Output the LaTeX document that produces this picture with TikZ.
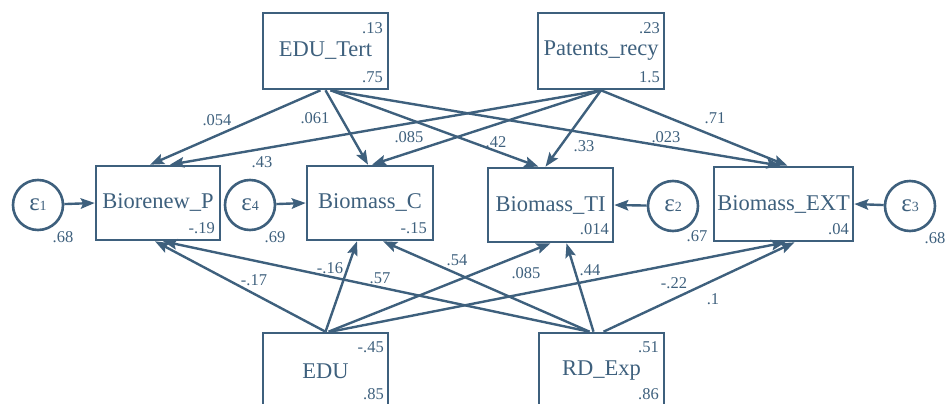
\documentclass[tikz,border=0pt]{standalone}
\usepackage{fontspec}
\setmainfont{Liberation Serif}
\usetikzlibrary{arrows.meta}
\definecolor{sem}{RGB}{62,96,125}
\newcommand{\epsl}[1]{{\fontsize{25}{25}\selectfont ε}{\fontsize{14}{14}\selectfont #1}}
\begin{document}
\begin{tikzpicture}[x=1pt,y=-1pt,
  every node/.style={text=sem},
  var/.style={draw=sem,line width=2.6pt,rectangle,inner sep=0pt,font=\fontsize{22.5}{22.5}\selectfont},
  errc/.style={draw=sem,line width=2.6pt,circle,minimum size=50pt,inner sep=0pt},
  num/.style={inner sep=0pt,font=\fontsize{16.5}{16.5}\selectfont},
  path/.style={draw=sem,line width=2.4pt,-{Stealth[length=14pt,width=10.5pt,inset=2.5pt]}}
]
\useasboundingbox (0,0) rectangle (945,404);
% boxes
\node[var,minimum width=125pt,minimum height=76pt] (edut) at (325.5,51) {EDU\_Tert};
\node[var,minimum width=126pt,minimum height=76pt] (pat) at (601,51) {Patents\_recy};
\node[var,minimum width=124pt,minimum height=74pt] (bp) at (158,203) {Biorenew\_P};
\node[var,minimum width=126pt,minimum height=74pt] (bc) at (370,203) {Biomass\_C};
\node[var,minimum width=125pt,minimum height=74pt] (bti) at (550.5,205) {Biomass\_TI};
\node[var,minimum width=139pt,minimum height=74pt] (bext) at (783.5,204) {Biomass\_EXT};
\node[var,minimum width=125pt,minimum height=76pt] (edu) at (325.5,371) {EDU};
\node[var,minimum width=125pt,minimum height=76pt] (rd) at (601.5,371) {RD\_Exp};
% error circles
\node[errc] (e1) at (38,205) {\epsl{1}};
\node[errc] (e4) at (250,205) {\epsl{4}};
\node[errc] (e2) at (673,206) {\epsl{2}};
\node[errc] (e3) at (910,206) {\epsl{3}};
% numbers inside boxes
\node[num,anchor=north east] (n1) at (383,22) {.13};
\node[num,anchor=base east] (n2) at (383,82) {.75};
\node[num,anchor=north east] (n3) at (660,22) {.23};
\node[num,anchor=base east] (n4) at (660,82) {1.5};
\node[num,anchor=base east] (n5) at (215,233) {-.19};
\node[num,anchor=base east] (n6) at (427,233) {-.15};
\node[num,anchor=base east] (n7) at (609,234) {.014};
\node[num,anchor=base east] (n8) at (849,234) {.04};
\node[num,anchor=north east] (n9) at (384,341) {-.45};
\node[num,anchor=base east] (n10) at (384,399) {.85};
\node[num,anchor=north east] (n11) at (659,341) {.51};
\node[num,anchor=base east] (n12) at (659,399) {.86};
% variance labels
\node[num,anchor=base] (v1) at (63,242) {.68};
\node[num,anchor=base] (v4) at (275,242) {.69};
\node[num,anchor=base] (v2) at (697,241) {.67};
\node[num,anchor=base] (v3) at (935,243) {.68};
% error arrows
\draw[path] (e1) -- (bp.west);
\draw[path] (e4) -- (bc.west);
\draw[path] (e2) -- (bti.east);
\draw[path] (e3) -- (bext.east);
% from EDU_Tert
\draw[path] ([xshift=-5pt]edut.south) -- ([xshift=-8pt]bp.north);
\draw[path] (edut.south) -- ([xshift=-2pt]bc.north);
\draw[path] ([xshift=5pt]edut.south) -- ([xshift=-12pt]bti.north);
\draw[path] ([xshift=5pt]edut.south) -- ([xshift=-3pt]bext.north);
% from Patents_recy
\draw[path] (pat.south) -- ([xshift=12pt]bp.north);
\draw[path] (pat.south) -- ([xshift=2pt]bc.north);
\draw[path] (pat.south) -- ([xshift=-5pt]bti.north);
\draw[path] (pat.south) -- ([xshift=4pt]bext.north);
% from EDU
\draw[path] (edu.north) -- ([xshift=-3pt]bp.south);
\draw[path] (edu.north) -- ([xshift=-13pt]bc.south);
\draw[path] ([xshift=3pt]edu.north) -- (bti.south);
\draw[path] ([xshift=5pt]edu.north) -- ([xshift=2pt]bext.south);
% from RD_Exp
\draw[path] ([xshift=-12pt]rd.north) -- ([xshift=5pt]bp.south);
\draw[path] ([xshift=-12pt]rd.north) -- ([xshift=13pt]bc.south);
\draw[path] ([xshift=-8pt]rd.north) -- ([xshift=16pt]bti.south);
\draw[path] ([xshift=2pt]rd.north) -- ([xshift=11pt]bext.south);
% path coefficients
\node[num] (c1) at (217,120) {.054};
\node[num] (c2) at (315,118) {.061};
\node[num] (c3) at (409,137) {.085};
\node[num] (c4) at (262,162) {.43};
\node[num] (c5) at (496,142) {.42};
\node[num] (c6) at (584,146) {.33};
\node[num] (c7) at (666,137) {.023};
\node[num] (c8) at (715,118) {.71};
\node[num] (c9) at (254,280) {-.17};
\node[num] (c10) at (330,268) {-.16};
\node[num] (c11) at (380,278) {.57};
\node[num] (c12) at (457,260) {.54};
\node[num] (c13) at (526,273) {.085};
\node[num] (c14) at (590,270) {.44};
\node[num] (c15) at (674,283) {-.22};
\node[num] (c16) at (713,299) {.1};
\end{tikzpicture}
\end{document}
